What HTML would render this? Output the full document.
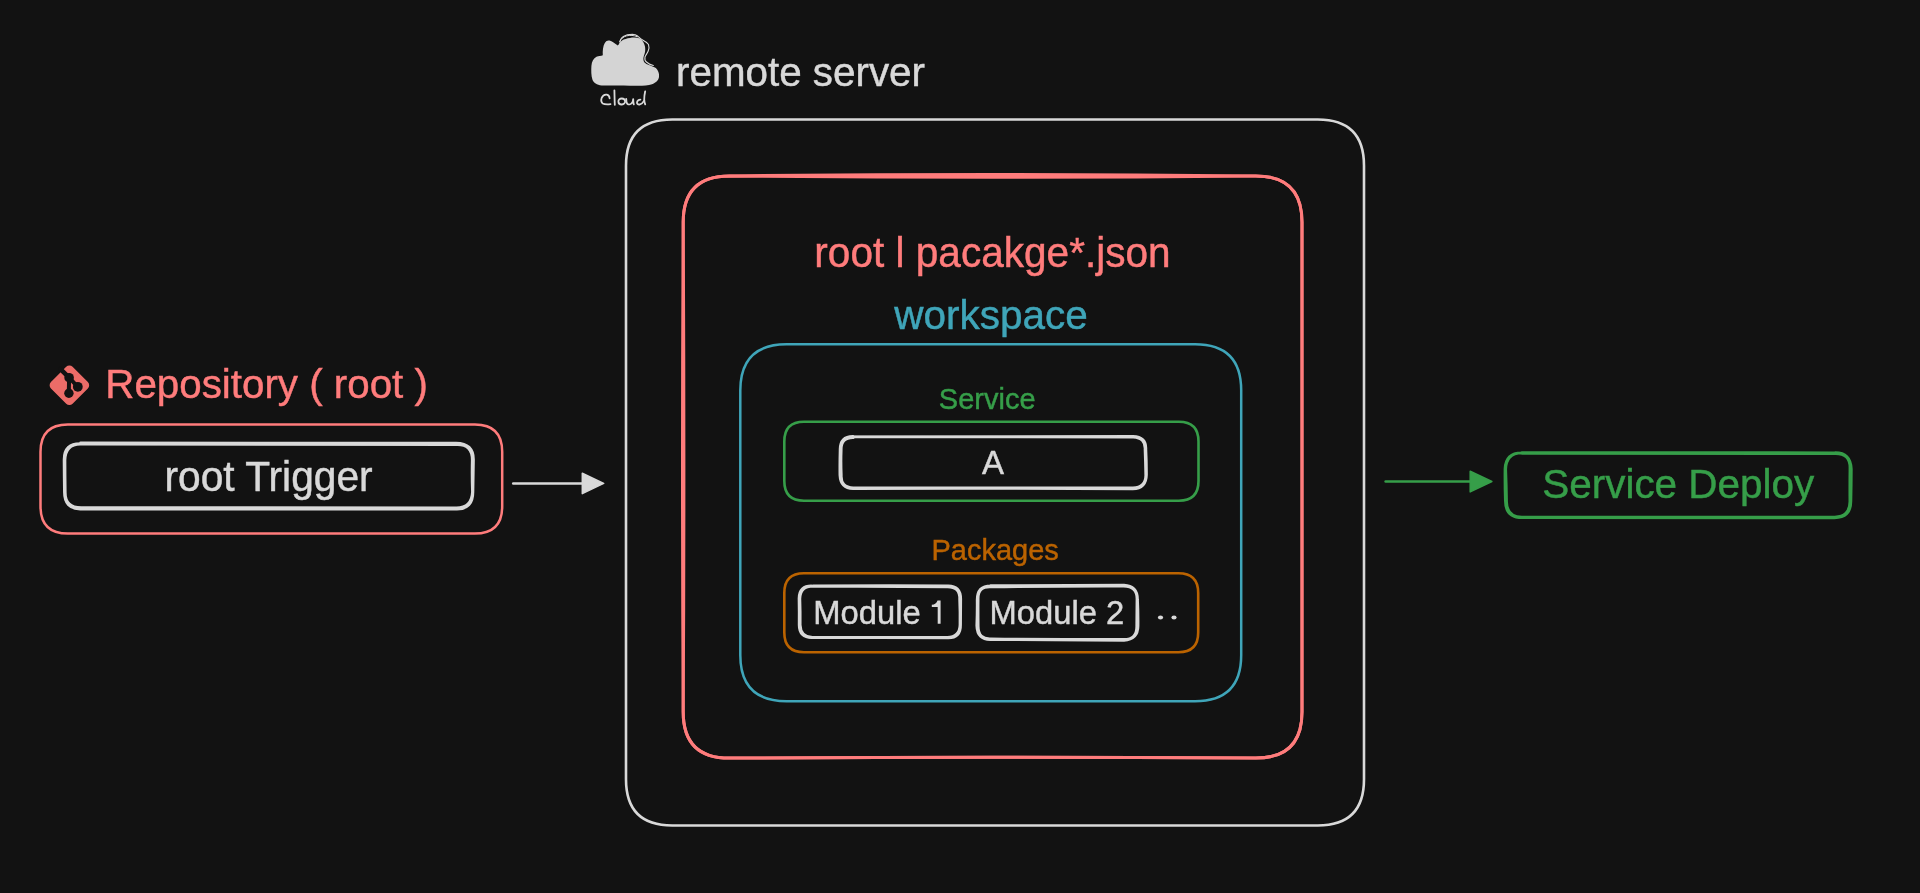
<!DOCTYPE html>
<html>
<head>
<meta charset="utf-8">
<style>
html,body{margin:0;padding:0;background:#121212;width:1920px;height:893px;overflow:hidden;}
svg{display:block;will-change:transform;}
text{font-family:"Liberation Sans",sans-serif;}
</style>
</head>
<body>
<svg width="1920" height="893" viewBox="0 0 1920 893">
<rect x="0" y="0" width="1920" height="893" fill="#121212"/>
<path d="M672.20 119.50 L1317.80 119.50 Q1364.00 119.50 1364.00 165.70 L1364.00 779.30 Q1364.00 825.50 1317.80 825.50 L672.20 825.50 Q626.00 825.50 626.00 779.30 L626.00 165.70 Q626.00 119.50 672.20 119.50 Z" fill="none" stroke="#d9d9d9" stroke-width="2.6"/>
<path d="M729.40 175.90 Q992.60 173.30 1255.80 175.90 Q1302.00 175.90 1302.00 222.10 Q1302.00 467.00 1302.00 711.90 Q1302.00 758.10 1255.80 758.10 Q992.60 756.50 729.40 758.10 Q683.20 758.10 683.20 711.90 Q681.80 467.00 683.20 222.10 Q683.20 175.90 729.40 175.90 Z" fill="none" stroke="#ff7c7c" stroke-width="3"/>
<path d="M729.40 175.90 Q992.60 178.50 1255.80 175.90 Q1302.00 175.90 1302.00 222.10 Q1302.00 467.00 1302.00 711.90 Q1302.00 758.10 1255.80 758.10 Q992.60 756.50 729.40 758.10 Q683.20 758.10 683.20 711.90 Q684.60 467.00 683.20 222.10 Q683.20 175.90 729.40 175.90 Z" fill="none" stroke="#ff7c7c" stroke-width="3"/>
<path d="M786.50 344.30 L1195.00 344.30 Q1241.20 344.30 1241.20 390.50 L1241.20 655.00 Q1241.20 701.20 1195.00 701.20 L786.50 701.20 Q740.30 701.20 740.30 655.00 L740.30 390.50 Q740.30 344.30 786.50 344.30 Z" fill="none" stroke="#3fa5b9" stroke-width="2.5"/>
<path d="M804.00 421.80 L1178.80 421.80 Q1198.50 421.80 1198.50 441.50 L1198.50 481.00 Q1198.50 500.70 1178.80 500.70 L804.00 500.70 Q784.30 500.70 784.30 481.00 L784.30 441.50 Q784.30 421.80 804.00 421.80 Z" fill="none" stroke="#369e49" stroke-width="2.6"/>
<path d="M804.00 573.30 L1178.50 573.30 Q1198.20 573.30 1198.20 593.00 L1198.20 632.50 Q1198.20 652.20 1178.50 652.20 L804.00 652.20 Q784.30 652.20 784.30 632.50 L784.30 593.00 Q784.30 573.30 804.00 573.30 Z" fill="none" stroke="#bb6300" stroke-width="2.6"/>
<path d="M67.80 424.50 L474.90 424.50 Q502.20 424.50 502.20 451.80 L502.20 506.30 Q502.20 533.60 474.90 533.60 L67.80 533.60 Q40.50 533.60 40.50 506.30 L40.50 451.80 Q40.50 424.50 67.80 424.50 Z" fill="none" stroke="#ff7c7c" stroke-width="2.5"/>
<path d="M853.07 436.61 Q993.44 436.08 1133.00 436.25 Q1146.54 436.56 1146.03 449.28 Q1146.70 462.44 1146.64 474.85 Q1146.35 488.90 1132.76 489.10 Q993.56 488.28 852.97 488.74 Q840.40 488.59 839.74 475.23 Q839.58 462.25 839.94 449.70 Q839.76 436.06 853.15 436.26" fill="none" stroke="#d9d9d9" stroke-width="2.4" stroke-linecap="round" stroke-linejoin="round"/>
<path d="M853.21 437.07 Q993.50 437.55 1133.13 437.22 Q1145.64 437.82 1144.86 449.55 Q1145.40 462.69 1145.59 475.23 Q1145.50 487.65 1132.82 487.58 Q993.54 487.81 853.40 487.58 Q840.78 487.27 841.47 475.22 Q840.91 462.54 841.38 449.86 Q841.09 437.45 853.41 437.75" fill="none" stroke="#d9d9d9" stroke-width="2.4" stroke-linecap="round" stroke-linejoin="round"/>
<path d="M813.01 585.80 Q879.55 585.03 947.60 585.61 Q960.95 585.23 960.90 599.00 Q960.87 611.44 960.74 624.50 Q961.00 638.55 947.70 638.14 Q879.90 637.89 812.18 637.67 Q799.07 637.94 798.99 624.95 Q799.12 611.80 798.86 598.47 Q798.94 585.07 812.61 585.85" fill="none" stroke="#d9d9d9" stroke-width="2.4" stroke-linecap="round" stroke-linejoin="round"/>
<path d="M812.76 586.31 Q880.30 586.87 947.51 586.97 Q959.84 586.86 959.47 599.33 Q960.02 611.45 959.83 624.79 Q959.57 636.93 947.29 637.28 Q879.95 637.20 812.47 637.24 Q800.66 636.86 800.36 624.98 Q800.50 611.74 800.05 598.74 Q800.48 586.30 812.97 586.39" fill="none" stroke="#d9d9d9" stroke-width="2.4" stroke-linecap="round" stroke-linejoin="round"/>
<path d="M990.56 585.44 Q1057.23 585.49 1124.01 585.01 Q1137.46 585.70 1137.68 599.16 Q1138.35 612.72 1138.20 626.08 Q1138.03 639.79 1124.02 640.43 Q1057.37 640.32 990.95 639.71 Q977.03 640.18 976.62 625.68 Q977.13 612.73 977.00 599.74 Q976.99 585.78 990.71 585.67" fill="none" stroke="#d9d9d9" stroke-width="2.4" stroke-linecap="round" stroke-linejoin="round"/>
<path d="M990.75 586.99 Q1057.69 586.24 1123.57 586.35 Q1137.12 586.54 1136.81 599.22 Q1136.71 612.65 1136.57 626.18 Q1136.78 639.26 1124.06 639.29 Q1057.67 639.34 990.95 638.60 Q978.32 639.32 978.36 626.16 Q978.19 612.49 978.30 599.47 Q977.81 586.21 991.12 587.04" fill="none" stroke="#d9d9d9" stroke-width="2.4" stroke-linecap="round" stroke-linejoin="round"/>
<path d="M80.56 442.84 Q268.56 442.89 456.11 443.11 Q473.68 443.47 473.54 459.75 Q473.33 475.90 473.01 491.85 Q473.04 509.38 456.80 509.28 Q268.92 508.72 80.63 509.11 Q64.21 509.32 64.34 491.83 Q64.10 476.25 64.01 459.71 Q63.98 442.83 81.19 443.53" fill="none" stroke="#d9d9d9" stroke-width="2.6" stroke-linecap="round" stroke-linejoin="round"/>
<path d="M80.84 444.22 Q269.02 444.47 456.84 444.71 Q472.11 444.32 472.19 459.94 Q471.80 475.92 472.38 491.79 Q471.69 507.91 456.30 507.83 Q268.62 507.66 81.25 507.53 Q65.12 507.53 65.32 492.00 Q65.07 476.32 65.04 460.05 Q65.56 444.04 80.41 444.16" fill="none" stroke="#d9d9d9" stroke-width="2.6" stroke-linecap="round" stroke-linejoin="round"/>
<path d="M1522.01 452.42 Q1678.37 452.60 1834.52 452.58 Q1850.68 452.17 1851.50 469.13 Q1851.46 484.85 1851.07 501.17 Q1851.14 518.27 1833.86 517.95 Q1677.90 518.57 1522.14 517.89 Q1505.37 517.87 1505.21 501.06 Q1504.65 485.53 1504.84 468.74 Q1505.53 452.54 1521.71 452.62" fill="none" stroke="#369e49" stroke-width="2.4" stroke-linecap="round" stroke-linejoin="round"/>
<path d="M1521.94 453.56 Q1677.83 453.80 1834.47 453.82 Q1850.25 453.22 1849.78 468.70 Q1849.58 484.81 1849.72 501.49 Q1849.45 517.16 1834.15 516.83 Q1678.39 516.98 1521.73 516.98 Q1506.48 516.60 1506.73 500.97 Q1506.52 485.51 1505.87 469.26 Q1506.18 453.47 1521.46 452.99" fill="none" stroke="#369e49" stroke-width="2.4" stroke-linecap="round" stroke-linejoin="round"/>
<line x1="513.2" y1="483.4" x2="584" y2="483.4" stroke="#d9d9d9" stroke-width="2.5" stroke-linecap="round"/>
<path d="M582.3 473.2 L603.7 483.4 L582.3 493.6 Z" fill="#d9d9d9" stroke="#d9d9d9" stroke-width="1.5" stroke-linejoin="round"/>
<line x1="1385.6" y1="481.5" x2="1472" y2="481.5" stroke="#369e49" stroke-width="2.5" stroke-linecap="round"/>
<path d="M1470.2 471.2 L1491.9 481.5 L1470.2 491.9 Z" fill="#369e49" stroke="#369e49" stroke-width="1.5" stroke-linejoin="round"/>
<text x="676" y="85.8" font-size="40.38" fill="#d9d9d9" stroke="#d9d9d9" stroke-width="0.45" transform="matrix(1,0,0,1.025,0,-2.145)">remote server</text>
<text x="105.3" y="398.1" font-size="40.34" fill="#ff7c7c" stroke="#ff7c7c" stroke-width="0.45" transform="matrix(1,0,0,1.025,0,-9.952)">Repository ( root )</text>
<text x="164.5" y="491.1" font-size="40.72" fill="#d9d9d9" stroke="#d9d9d9" stroke-width="0.45" transform="matrix(1,0,0,1.025,0,-12.277)">root Trigger</text>
<text x="992.5" y="266.6" font-size="40.58" fill="#ff7c7c" stroke="#ff7c7c" stroke-width="0.45" transform="matrix(1,0,0,1.025,0,-6.665)" text-anchor="middle">root l pacakge*.json</text>
<text x="991" y="328.8" font-size="40.5" fill="#3fa5b9" stroke="#3fa5b9" stroke-width="0.45" transform="matrix(1,0,0,1.025,0,-8.220)" text-anchor="middle">workspace</text>
<text x="987.2" y="408.7" font-size="29" fill="#369e49" stroke="#369e49" stroke-width="0.45" transform="matrix(1,0,0,1.025,0,-10.217)" text-anchor="middle">Service</text>
<text x="993" y="474" font-size="33" fill="#d9d9d9" stroke="#d9d9d9" stroke-width="0.45" transform="matrix(1,0,0,1.025,0,-11.850)" text-anchor="middle">A</text>
<text x="995.2" y="559.7" font-size="29" fill="#bb6300" stroke="#bb6300" stroke-width="0.45" transform="matrix(1,0,0,1.025,0,-13.992)" text-anchor="middle">Packages</text>
<text x="813.3" y="623.8" font-size="32.75" fill="#d9d9d9" stroke="#d9d9d9" stroke-width="0.45" transform="matrix(1,0,0,1.025,0,-15.595)">Module</text>
<path d="M940.6 600.4 L940.6 623.8 L937.7 623.8 L937.7 606.9 L931.8 606.9 L931.8 604.7 Q936.3 604.3 937.5 600.4 Z" fill="#d9d9d9"/>
<text x="989.6" y="623.8" font-size="32.75" fill="#d9d9d9" stroke="#d9d9d9" stroke-width="0.45" transform="matrix(1,0,0,1.025,0,-15.595)">Module 2</text>
<text x="1542.3" y="498.5" font-size="40.45" fill="#369e49" stroke="#369e49" stroke-width="0.45" transform="matrix(1,0,0,1.025,0,-12.462)">Service Deploy</text>
<ellipse cx="1160.5" cy="617.4" rx="2.6" ry="2" fill="#d9d9d9"/>
<ellipse cx="1174" cy="617.4" rx="2.6" ry="2" fill="#d9d9d9"/>
<rect x="54.10000000000001" y="369.9" width="30.6" height="30.6" rx="4.5" ry="4.5" fill="#ec6c68" transform="rotate(45 69.4 385.2)"/>
<g stroke="#121212" stroke-linecap="round" fill="none"><line x1="60.5" y1="369.1" x2="69.1" y2="377.7" stroke-width="4.6"/><line x1="69.1" y1="377.7" x2="68.8" y2="393.2" stroke-width="4"/><line x1="69.1" y1="377.7" x2="77.8" y2="386.8" stroke-width="4"/></g>
<g fill="#121212"><circle cx="69.1" cy="377.7" r="4.8"/><circle cx="68.9" cy="393.2" r="4.7"/><circle cx="77.8" cy="386.8" r="4.9"/></g>
<path d="M601.6 85.5 C597 84.8 593.5 83 592.4 79.5 C591.2 76 591.1 70 591.4 66 C591.8 61.5 593.5 58.5 596.5 56.8 C598.5 55.9 601 56.2 602.8 55.3 C602.5 51 603 46 604.8 43 C606 41 607.8 40.2 609.5 40.6 C612 41.2 615 43.5 617.8 45.6 C619 44.5 620 42 622 40.5 C624 39 627 38.3 630 37.9 C633 37.5 637 37.4 640 38.5 C642.5 40 644.2 43 645 46.5 C645.6 50 645 53 644 55.5 C643.2 57.8 643 60.5 644.5 62.5 C646.5 64.5 651 65.8 655 67.5 C658 69.5 659.5 73.5 659 77 C658.5 80.5 655.5 83 652 84.2 C648 85.5 642 85.8 636 85.7 C625 85.5 612 85.3 601.6 85.5 Z" fill="#d4d4d4"/>
<path d="M620 44 C619.8 41 621 38 623.4 36.5 C626 34.8 629 34.3 632.3 34.3 C634.5 34.4 636 34.8 637.5 36 C639 37.3 640.5 39 643 40.3 C645 41.3 647 42.5 648.5 44.5 C649.2 46.5 649 49 648.2 51 C647.5 53 645.8 55 645 57 C644.6 59 645.2 61 646.5 62 C648.5 63.8 651 64.8 653.3 65.5" fill="none" stroke="#d9d9d9" stroke-width="1.1" stroke-linecap="round"/>
<path d="M619.6 41.5 C621 38.6 623.5 36.8 626.5 35.9 C630 35 634 35.3 637 36.6" fill="none" stroke="#d9d9d9" stroke-width="1" stroke-linecap="round"/>
<path d="M609.6 98.3 C609.5 96.3 608.6 95 606.8 94.6 C604.6 94.3 602.6 95.6 601.7 97.8 C601 100 601.3 102.4 602.8 103.5 C604.5 104.6 607.5 104.5 610.5 104.2" fill="none" stroke="#d9d9d9" stroke-width="1.8" stroke-linecap="round" stroke-linejoin="round"/>
<path d="M614.4 90.3 C614.5 95 614.6 100 614.8 104.8" fill="none" stroke="#d9d9d9" stroke-width="1.8" stroke-linecap="round" stroke-linejoin="round"/>
<path d="M621.8 98.5 C619.6 98.5 618.3 99.8 618.4 101.6 C618.5 103.4 620 104.6 621.9 104.5 C623.9 104.4 625.2 103 625.1 101.2 C625 99.5 623.6 98.5 621.8 98.5" fill="none" stroke="#d9d9d9" stroke-width="1.8" stroke-linecap="round" stroke-linejoin="round"/>
<path d="M626.2 98.8 C626.2 101 626.4 103 627.5 104 C629 104.9 631.2 104.2 632.3 102.6 C632.9 101.5 633.1 100.2 633.2 99.2 C633.2 101 633.4 103 633.8 104.4" fill="none" stroke="#d9d9d9" stroke-width="1.8" stroke-linecap="round" stroke-linejoin="round"/>
<path d="M640.4 99.6 C638.7 99.7 637.3 100.8 637 102.4 C636.8 103.8 638 104.7 639.5 104.5 C641.2 104.2 643 102.7 644.2 100.6" fill="none" stroke="#d9d9d9" stroke-width="1.8" stroke-linecap="round" stroke-linejoin="round"/>
<path d="M645.2 91.3 C644.6 94 644.2 97 644.2 99.5 C644.3 101.5 644.7 103.2 645.2 104.4" fill="none" stroke="#d9d9d9" stroke-width="1.8" stroke-linecap="round" stroke-linejoin="round"/>
</svg>
</body>
</html>
